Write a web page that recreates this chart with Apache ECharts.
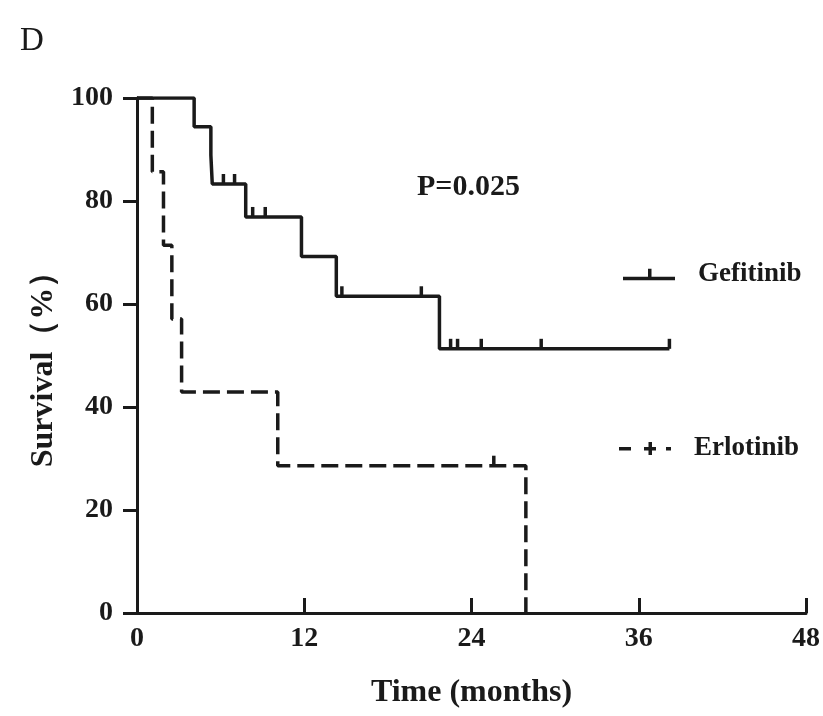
<!DOCTYPE html>
<html>
<head>
<meta charset="utf-8">
<script src="https://cdn.jsdelivr.net/npm/echarts@6/dist/echarts.min.js"></script>
<style>
  html, body { margin: 0; padding: 0; background: #fff; }
  #chart { width: 823px; height: 716px; }
</style>
</head>
<body>
<div id="chart"></div>
<script>
// Kaplan–Meier survival: [time in months, survival %] at each event
const gefitinibSteps = [[0, 100], [4.1, 94.4], [5.3, 88.9], [5.4, 83.3], [7.8, 76.9], [11.8, 69.2], [14.3, 61.5], [21.7, 51.3], [38.2, 51.3]];
const gefitinibCensored = [[6.2, 83.3], [7.0, 83.3], [8.3, 76.9], [9.2, 76.9], [14.7, 61.5], [20.4, 61.5], [22.5, 51.3], [23.0, 51.3], [24.7, 51.3], [29.0, 51.3], [38.2, 51.3]];
const erlotinibSteps = [[0, 100], [1.1, 85.7], [1.9, 71.4], [2.5, 57.1], [3.2, 42.9], [10.1, 28.6], [27.9, 0]];
const erlotinibCensored = [[25.6, 28.6]];

const xTicks = [0, 12, 24, 36, 48];
const yTicks = [0, 20, 40, 60, 80, 100];
const pValueText = 'P=0.025';

const ink = '#1a1a1a';
const serif = "'Liberation Serif', 'DejaVu Serif', serif";

const chart = echarts.init(document.getElementById('chart'));

// censored observations drawn as short upward ticks on the curve
const censorStyle = {
  type: 'scatter',
  symbol: 'rect',
  symbolSize: [3.5, 10],
  symbolOffset: [0, -5],
  itemStyle: { color: ink, opacity: 1 },
  silent: true,
  z: 4
};

chart.setOption({
  animation: false,
  backgroundColor: '#fff',
  title: {
    text: 'D',
    left: 15,
    top: 20,
    textStyle: { fontFamily: serif, fontWeight: 'normal', fontSize: 33, color: ink }
  },
  graphic: [{
    type: 'text',
    left: 417,
    top: 172,
    style: { text: pValueText, font: "bold 30px 'Liberation Serif'", fill: ink }
  }],
  legend: [{
    data: ['Gefitinib'],
    left: 618,
    top: 256,
    icon: 'path://M0,8 L52,8 L52,11.5 L0,11.5 Z M25,0 L28.5,0 L28.5,8 L25,8 Z',
    itemWidth: 52,
    itemHeight: 11.5,
    textStyle: { fontFamily: serif, fontWeight: 'bold', fontSize: 27, color: ink, padding: [0, 0, 0, 18] }
  }, {
    data: ['Erlotinib'],
    left: 614,
    top: 430,
    icon: 'path://M0,5 L12,5 L12,8.5 L0,8.5 Z M25,5 L37,5 L37,8.5 L25,8.5 Z M29.5,0 L33,0 L33,13 L29.5,13 Z M47,5 L52,5 L52,8.5 L47,8.5 Z',
    itemWidth: 52,
    itemHeight: 13,
    textStyle: { fontFamily: serif, fontWeight: 'bold', fontSize: 27, color: ink, padding: [0, 0, 0, 18] }
  }],
  grid: { left: 137, right: 17, top: 98, bottom: 103, containLabel: false },
  xAxis: {
    type: 'value',
    min: xTicks[0],
    max: xTicks[xTicks.length - 1],
    interval: 12,
    name: 'Time (months)',
    nameLocation: 'middle',
    nameGap: 64,
    nameTextStyle: { fontFamily: serif, fontWeight: 'bold', fontSize: 32, color: ink },
    axisLine: { lineStyle: { color: ink, width: 3 } },
    axisTick: { inside: true, length: 15, lineStyle: { color: ink, width: 3 } },
    axisLabel: { margin: 12, fontFamily: serif, fontWeight: 'bold', fontSize: 28, color: ink },
    splitLine: { show: false }
  },
  yAxis: {
    type: 'value',
    min: yTicks[0],
    max: yTicks[yTicks.length - 1],
    interval: 20,
    name: 'Survival（%）',
    nameLocation: 'middle',
    nameGap: 76,
    nameTextStyle: { fontFamily: serif, fontWeight: 'bold', fontSize: 32, color: ink, padding: [0, 12, 0, 0] },
    axisLine: { show: true, lineStyle: { color: ink, width: 3 } },
    axisTick: { show: true, inside: false, length: 14, lineStyle: { color: ink, width: 3 } },
    axisLabel: { margin: 24, fontFamily: serif, fontWeight: 'bold', fontSize: 28, color: ink },
    splitLine: { show: false }
  },
  series: [{
    name: 'Erlotinib',
    type: 'line',
    step: 'end',
    data: erlotinibSteps,
    showSymbol: false,
    lineStyle: { color: ink, width: 3.5, type: [17, 7] },
    itemStyle: { color: ink },
    z: 2
  }, Object.assign({ name: 'Erlotinib censored', data: erlotinibCensored }, censorStyle), {
    name: 'Gefitinib',
    type: 'line',
    step: 'end',
    data: gefitinibSteps,
    showSymbol: false,
    lineStyle: { color: ink, width: 3.5 },
    itemStyle: { color: ink },
    z: 3
  }, Object.assign({ name: 'Gefitinib censored', data: gefitinibCensored }, censorStyle)]
});
</script>
</body>
</html>
